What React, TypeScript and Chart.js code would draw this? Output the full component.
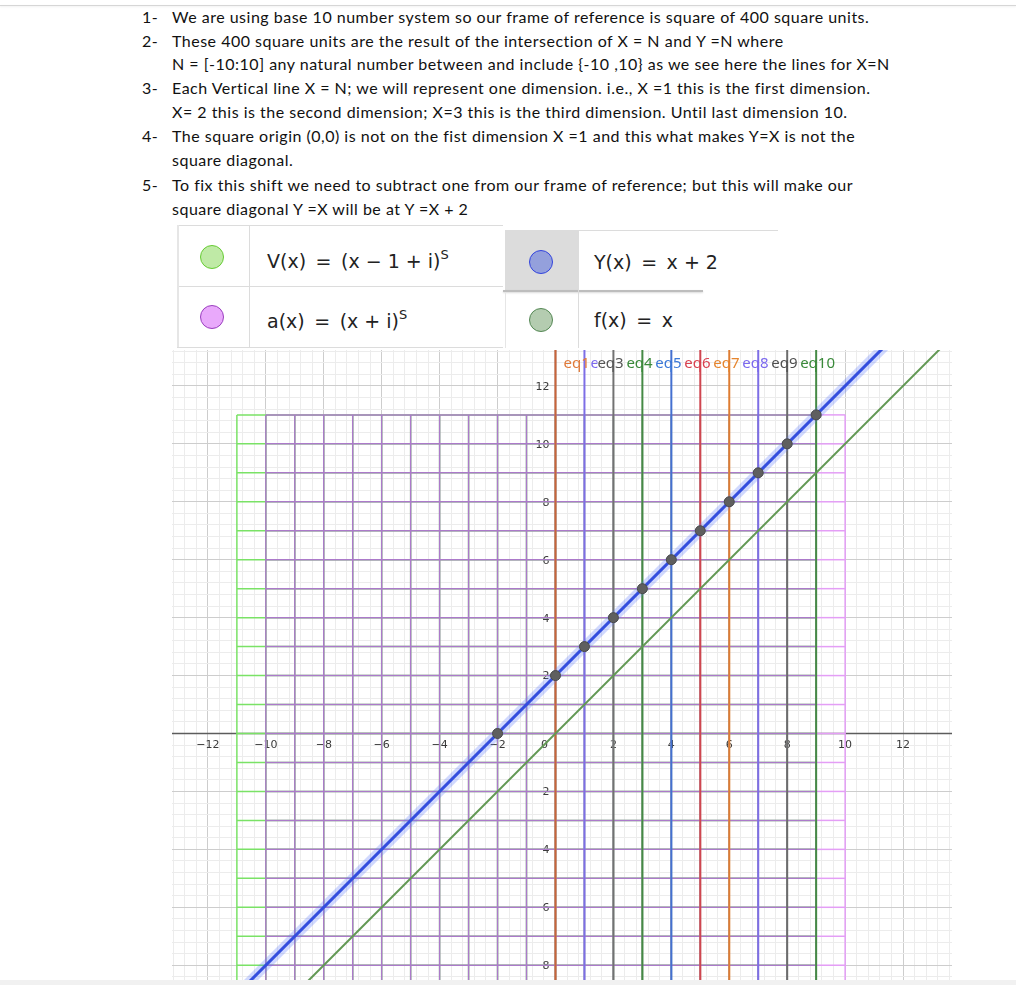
import React, { useEffect, useRef } from "react";
import { Chart, registerables } from "chart.js";
Chart.register(...registerables);

// ---------- data ----------
const listNumbers = ["1-", "2-", "", "3-", "", "4-", "", "5-", ""];
const listLines = [
  "We are using base 10 number system so our frame of reference is square of 400 square units.",
  "These 400 square units are the result of the intersection of X = N and Y =N where",
  "N = [-10:10] any natural number between and include {-10 ,10} as we see here the lines for X=N",
  "Each Vertical line X = N; we will represent one dimension. i.e., X =1 this is the first dimension.",
  "X= 2 this is the second dimension; X=3 this is the third dimension. Until last dimension 10.",
  "The square origin (0,0) is not on the fist dimension X =1 and this what makes Y=X is not the",
  "square diagonal.",
  "To fix this shift we need to subtract one from our frame of reference; but this will make our",
  "square diagonal Y =X will be at Y =X + 2",
];

const xMin = -13.24;
const xMax = 13.69;
const yMin = -8.51;
const yMax = 13.24;

const xAxisLabels = [-12, -10, -8, -6, -4, -2, 2, 4, 6, 8, 10, 12];
const yAxisLabels = [-8, -6, -4, -2, 2, 4, 6, 8, 10, 12];

// V(x) = (x - 1 + i)^S  : square grid shifted one unit left
const vColumns = [-11, -10, -9, -8, -7, -6, -5, -4, -3, -2, -1, 0, 1, 2, 3, 4, 5, 6, 7, 8, 9];
// a(x) = (x + i)^S
const aColumns = [-10, -9, -8, -7, -6, -5, -4, -3, -2, -1, 0, 1, 2, 3, 4, 5, 6, 7, 8, 9, 10];
const gridRows = [-10, -9, -8, -7, -6, -5, -4, -3, -2, -1, 0, 1, 2, 3, 4, 5, 6, 7, 8, 9, 10, 11];
const gridBottom = -10;
const gridTop = 11;

// eq1..eq10 vertical lines X = N
const eqNames = ["eq1", "eq2", "eq3", "eq4", "eq5", "eq6", "eq7", "eq8", "eq9", "eq10"];
const eqX = [0, 1, 2, 3, 4, 5, 6, 7, 8, 9];
const eqColors = ["#c9643a", "#7d6ee6", "#727272", "#458a45", "#4470d0", "#cf4650", "#de7c32", "#7d6ee6", "#6c6c6c", "#458a45"];
const eqLabelColors = ["#e07a3a", "#7b68ee", "#555555", "#3a8a3a", "#3b78d8", "#d9414f", "#e6852e", "#7b68ee", "#4f4f4f", "#3a8a3a"];

// Y(x) = x + 2
const yLineX = [-15, 15];
const yLineY = [-13, 17];
// f(x) = x
const fLineX = [-15, 15];
const fLineY = [-15, 15];

// intersection points on Y(x)
const pointX = [-2, 0, 1, 2, 3, 4, 5, 6, 7, 8, 9];
const pointY = [0, 2, 3, 4, 5, 6, 7, 8, 9, 10, 11];

// ---------- styles ----------
const vGreen = "rgb(122,226,102)";
const aLight = "rgb(228,158,246)";
const aOverlap = "rgb(172,122,202)";

const fmt = (v: number) => (v < 0 ? "\u2212" + Math.abs(v) : String(v));

function gridValues(min: number, max: number) {
  const out: { value: number }[] = [];
  const start = Math.ceil(min / 0.4);
  const end = Math.floor(max / 0.4);
  for (let k = start; k <= end; k++) out.push({ value: Math.round(k * 0.4 * 1000) / 1000 });
  return out;
}
const isMajor = (v: number) => Math.abs(v / 2 - Math.round(v / 2)) < 1e-6;

const axesPlugin = {
  id: "ggbAxes",
  beforeDatasetsDraw(chart: any) {
    const { ctx, chartArea, scales } = chart;
    const xs = scales.x;
    const ys = scales.y;
    const x0 = xs.getPixelForValue(0);
    const y0 = ys.getPixelForValue(0);
    ctx.save();
    ctx.strokeStyle = "#5c5c5c";
    ctx.lineWidth = 1.5;
    ctx.beginPath();
    ctx.moveTo(chartArea.left, y0);
    ctx.lineTo(chartArea.right, y0);
    ctx.moveTo(x0, chartArea.top);
    ctx.lineTo(x0, chartArea.bottom);
    ctx.stroke();
    ctx.font = '11px "DejaVu Sans"';
    ctx.fillStyle = "#3a3a3a";
    ctx.textAlign = "center";
    ctx.textBaseline = "middle";
    xAxisLabels.forEach((v) => ctx.fillText(fmt(v), xs.getPixelForValue(v), y0 + 12));
    ctx.fillText("0", x0 - 11, y0 + 12);
    ctx.textAlign = "right";
    yAxisLabels.forEach((v) => ctx.fillText(fmt(v), x0 - 6, ys.getPixelForValue(v) + 1));
    ctx.restore();
  },
};

const eqLabelPlugin = {
  id: "eqLabels",
  afterDatasetsDraw(chart: any) {
    const { ctx, chartArea, scales } = chart;
    const xs = scales.x;
    ctx.save();
    ctx.font = '15px "Noto Sans"';
    ctx.textBaseline = "middle";
    ctx.textAlign = "left";
    const ly = chartArea.top + 14;
    const startOf = (i: number) => xs.getPixelForValue(eqX[i]) + (i === 0 ? 8 : -16);
    // eq2 is mostly hidden behind its neighbours
    ctx.save();
    ctx.beginPath();
    ctx.rect(startOf(0) + 27, chartArea.top, startOf(2) - startOf(0) - 27, 40);
    ctx.clip();
    ctx.fillStyle = eqLabelColors[1];
    ctx.fillText(eqNames[1], startOf(0) + 27, ly);
    ctx.restore();
    eqNames.forEach((n, i) => {
      if (i === 1) return;
      ctx.fillStyle = eqLabelColors[i];
      ctx.fillText(n, startOf(i), ly);
    });
    ctx.restore();
  },
};

function seg(x1: number, y1: number, x2: number, y2: number) {
  return [
    { x: x1, y: y1 },
    { x: x2, y: y2 },
  ];
}

function buildDatasets() {
  const ds: any[] = [];
  const base = { showLine: true, pointRadius: 0, fill: false, borderCapStyle: "butt" };
  const vLeft = vColumns[0];
  const vRight = vColumns[vColumns.length - 1];
  const aLeft = aColumns[0];
  const aRight = aColumns[aColumns.length - 1];
  // V family (green), underneath
  vColumns.forEach((c) =>
    ds.push({ ...base, data: seg(c, gridBottom, c, gridTop), borderColor: vGreen, borderWidth: 1.5, order: 7 })
  );
  gridRows.forEach((r) =>
    ds.push({ ...base, data: seg(vLeft, r, vRight, r), borderColor: vGreen, borderWidth: 1.5, order: 7 })
  );
  // a family (magenta), darker where it overlaps V
  aColumns.forEach((c) =>
    ds.push({
      ...base,
      data: seg(c, gridBottom, c, gridTop),
      borderColor: vColumns.includes(c) ? aOverlap : aLight,
      borderWidth: 1.5,
      order: 6,
    })
  );
  gridRows.forEach((r) =>
    ds.push({
      ...base,
      data: [
        { x: aLeft, y: r },
        { x: vRight, y: r },
        { x: aRight, y: r },
      ],
      borderColor: aOverlap,
      segment: { borderColor: (ctx: any) => (ctx.p1.parsed.x > vRight ? aLight : aOverlap) },
      borderWidth: 1.5,
      order: 6,
    })
  );
  // eq lines
  eqX.forEach((c, i) =>
    ds.push({ ...base, data: seg(c, -30, c, 30), borderColor: eqColors[i], borderWidth: 2, order: 5 })
  );
  // f(x) = x
  ds.push({
    ...base,
    data: fLineX.map((x, i) => ({ x, y: fLineY[i] })),
    borderColor: "rgb(98,152,84)",
    borderWidth: 2,
    order: 4,
  });
  // Y(x) = x + 2 (selected: glow + core)
  ds.push({
    ...base,
    data: yLineX.map((x, i) => ({ x, y: yLineY[i] })),
    borderColor: "rgba(90,120,250,0.28)",
    borderWidth: 10,
    order: 3,
  });
  ds.push({
    ...base,
    data: yLineX.map((x, i) => ({ x, y: yLineY[i] })),
    borderColor: "rgb(52,78,222)",
    borderWidth: 3,
    order: 2,
  });
  // points
  ds.push({
    showLine: false,
    data: pointX.map((x, i) => ({ x, y: pointY[i] })),
    pointRadius: 5,
    pointBackgroundColor: "#5f5f5f",
    pointBorderColor: "#4a4a4a",
    pointBorderWidth: 1,
    order: 1,
  });
  return ds;
}

function GraphCanvas() {
  const ref = useRef<HTMLCanvasElement | null>(null);
  useEffect(() => {
    if (!ref.current) return;
    const gridOpts = {
      drawTicks: false,
      lineWidth: 1,
      color: (ctx: any) => (ctx.tick && isMajor(ctx.tick.value) ? "#cdcdcd" : "#ececec"),
    };
    const chart = new Chart(ref.current, {
      type: "scatter",
      data: { datasets: buildDatasets() },
      options: {
        animation: false,
        responsive: false,
        maintainAspectRatio: false,
        events: [],
        layout: { padding: 0, autoPadding: false },
        plugins: { legend: { display: false }, tooltip: { enabled: false } },
        scales: {
          x: {
            type: "linear",
            min: xMin,
            max: xMax,
            ticks: { display: false },
            border: { display: false },
            grid: gridOpts,
            afterBuildTicks: (s: any) => {
              s.ticks = gridValues(xMin, xMax);
            },
          },
          y: {
            type: "linear",
            min: yMin,
            max: yMax,
            ticks: { display: false },
            border: { display: false },
            grid: gridOpts,
            afterBuildTicks: (s: any) => {
              s.ticks = gridValues(yMin, yMax);
            },
          },
        },
      } as any,
      plugins: [axesPlugin, eqLabelPlugin],
    });
    return () => chart.destroy();
  }, []);
  return (
    <canvas
      ref={ref}
      width={780}
      height={630}
      style={{ position: "absolute", left: 172, top: 350, width: 780, height: 630 }}
    />
  );
}

const line = (x: number, y: number, w: number, h: number, c: string, extra: any = {}) => (
  <div style={{ position: "absolute", left: x, top: y, width: w, height: h, background: c, ...extra }} />
);

const circle = (cx: number, cy: number, fill: string, border: string) => (
  <div
    style={{
      position: "absolute",
      left: cx - 12,
      top: cy - 12,
      width: 24,
      height: 24,
      borderRadius: "50%",
      background: fill,
      border: `1.5px solid ${border}`,
      boxSizing: "border-box",
    }}
  />
);

const mathStyle: any = {
  position: "absolute",
  fontFamily: '"DejaVu Sans", sans-serif',
  fontSize: 19,
  color: "#222",
  lineHeight: "22px",
  whiteSpace: "pre",
};

const textStyle: any = {
  position: "absolute",
  fontFamily: "Lato, sans-serif",
  fontSize: 16,
  letterSpacing: "0.5px",
  lineHeight: "20px",
  color: "#111",
  whiteSpace: "pre",
  fontVariantLigatures: "none",
};

export default function App() {
  const lineCenters = [17, 41, 64, 88, 112, 136, 160, 185, 209];
  const eqSp = "\u2002=\u2002";
  return (
    <div style={{ position: "absolute", left: 0, top: 0, width: 1016, height: 985, background: "#fff", overflow: "hidden" }}>
      {line(0, 5, 1016, 1, "#d6d6d6", { boxShadow: "0 1px 2px rgba(0,0,0,0.08)" })}
      {listLines.map((t, i) => (
        <React.Fragment key={i}>
          {listNumbers[i] && (
            <div style={{ ...textStyle, left: 142, top: lineCenters[i] - 10 }}>{listNumbers[i]}</div>
          )}
          <div style={{ ...textStyle, left: 172, top: lineCenters[i] - 10 }}>{t}</div>
        </React.Fragment>
      ))}

      {/* legend: left block */}
      {line(177, 225, 326, 1, "#dcdcdc")}
      {line(177, 286, 326, 1, "#dcdcdc")}
      {line(177, 347, 326, 1, "#dcdcdc")}
      {line(249, 225, 1, 122, "#dcdcdc")}
      {line(177, 225, 2, 122, "#e6e6e6")}
      {circle(212, 257, "#bfeaa6", "#66cc33")}
      {circle(212, 317, "#e9a9fb", "#9a3fbf")}
      <div style={{ ...mathStyle, left: 267, top: 246 }}>
        {"V(x)" + eqSp + "(x \u2212 1 + i)"}
        <sup style={{ fontSize: 13, position: "relative", top: -2 }}>S</sup>
      </div>
      <div style={{ ...mathStyle, left: 267, top: 306 }}>
        {"a(x)" + eqSp + "(x + i)"}
        <sup style={{ fontSize: 13, position: "relative", top: -2 }}>S</sup>
      </div>

      {/* legend: right block */}
      {line(505, 230, 273, 1, "#dcdcdc")}
      {line(505, 231, 73, 59, "#dcdcdc")}
      {line(503, 290, 200, 2, "#bdbdbd", { boxShadow: "0 1px 2px rgba(0,0,0,0.15)" })}
      {line(578, 230, 1, 118, "#dcdcdc")}
      {line(505, 292, 1, 56, "#e6e6e6")}
      {circle(541, 262, "#94a0dc", "#3344dd")}
      {circle(541, 320, "#b4ccb0", "#558855")}
      <div style={{ ...mathStyle, left: 594, top: 251 }}>{"Y(x)" + eqSp + "x + 2"}</div>
      <div style={{ ...mathStyle, left: 594, top: 309 }}>{"f(x)" + eqSp + "x"}</div>

      <GraphCanvas />
      {line(0, 980, 1016, 5, "#f1f1f1")}
    </div>
  );
}
